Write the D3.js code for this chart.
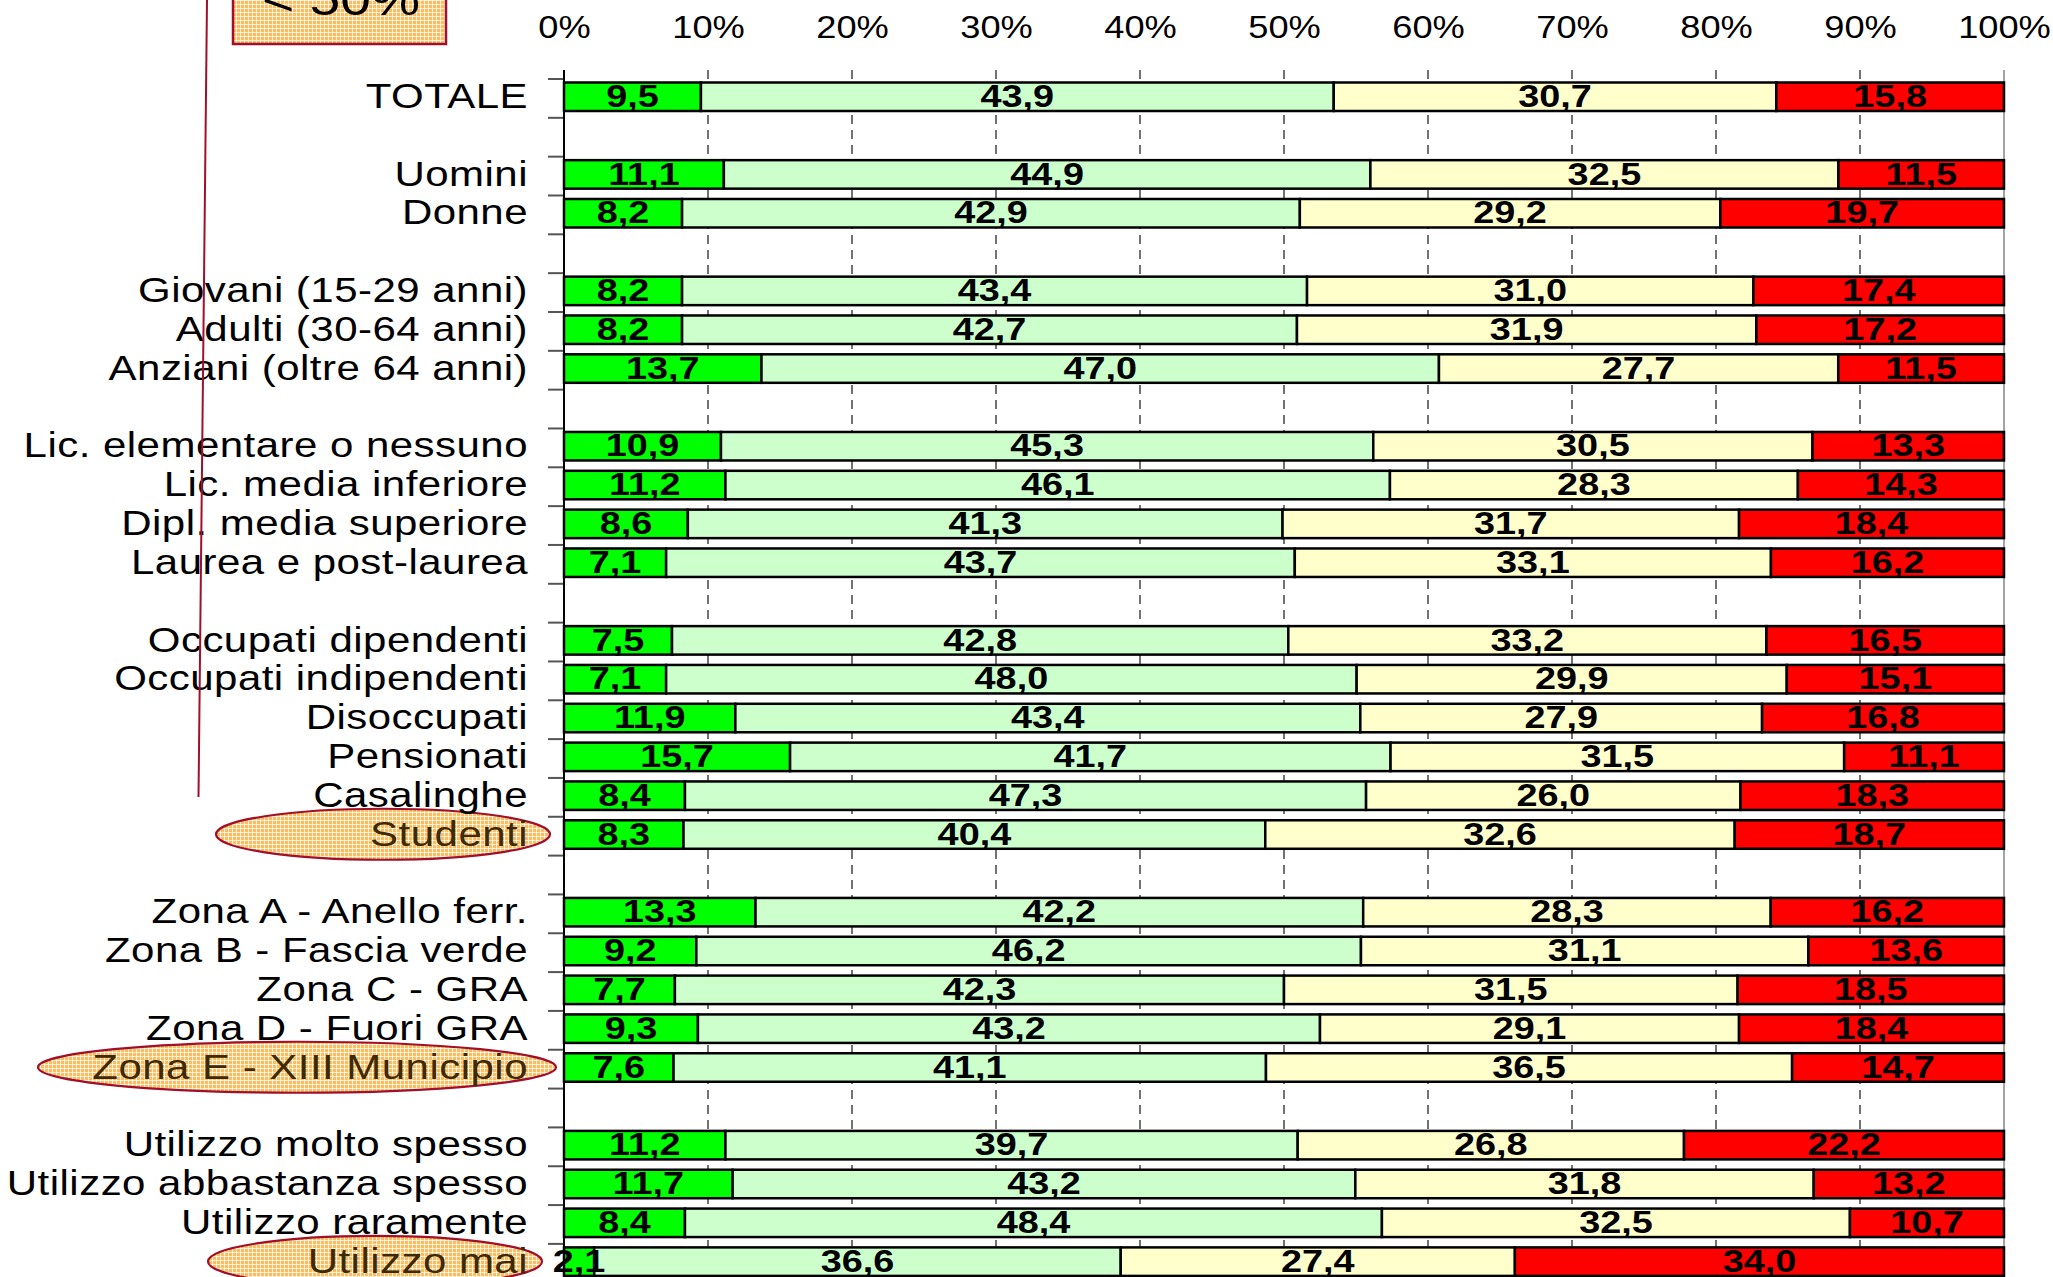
<!DOCTYPE html>
<html>
<head>
<meta charset="utf-8">
<script src="https://cdn.jsdelivr.net/npm/d3@7"></script>
<style>
    body { margin: 0; background: #fff; }
    svg { display: block; font-family: "Liberation Sans", Arial, sans-serif; }
</style>
</head>
<body>
<svg id="chart" width="2053" height="1277"></svg>
<script>
// categorie, nell'ordine del grafico (i gruppi sono separati da una riga vuota)
var categories = [
    "TOTALE",
    "Uomini", "Donne",
    "Giovani (15-29 anni)", "Adulti (30-64 anni)", "Anziani (oltre 64 anni)",
    "Lic. elementare o nessuno", "Lic. media inferiore", "Dipl. media superiore", "Laurea e post-laurea",
    "Occupati dipendenti", "Occupati indipendenti", "Disoccupati", "Pensionati", "Casalinghe", "Studenti",
    "Zona A - Anello ferr.", "Zona B - Fascia verde", "Zona C - GRA", "Zona D - Fuori GRA", "Zona E - XIII Municipio",
    "Utilizzo molto spesso", "Utilizzo abbastanza spesso", "Utilizzo raramente", "Utilizzo mai"
];
var groupSizes = [1, 2, 3, 4, 6, 5, 4];

// le quattro serie (valori percentuali)
var serieVerde = [9.5, 11.1, 8.2, 8.2, 8.2, 13.7, 10.9, 11.2, 8.6, 7.1, 7.5, 7.1, 11.9, 15.7, 8.4, 8.3, 13.3, 9.2, 7.7, 9.3, 7.6, 11.2, 11.7, 8.4, 2.1];
var serieVerdeChiaro = [43.9, 44.9, 42.9, 43.4, 42.7, 47.0, 45.3, 46.1, 41.3, 43.7, 42.8, 48.0, 43.4, 41.7, 47.3, 40.4, 42.2, 46.2, 42.3, 43.2, 41.1, 39.7, 43.2, 48.4, 36.6];
var serieGialla = [30.7, 32.5, 29.2, 31.0, 31.9, 27.7, 30.5, 28.3, 31.7, 33.1, 33.2, 29.9, 27.9, 31.5, 26.0, 32.6, 28.3, 31.1, 31.5, 29.1, 36.5, 26.8, 31.8, 32.5, 27.4];
var serieRossa = [15.8, 11.5, 19.7, 17.4, 17.2, 11.5, 13.3, 14.3, 18.4, 16.2, 16.5, 15.1, 16.8, 11.1, 18.3, 18.7, 16.2, 13.6, 18.5, 18.4, 14.7, 22.2, 13.2, 10.7, 34.0];

var tickValues = [0, 10, 20, 30, 40, 50, 60, 70, 80, 90, 100];
var highlighted = ["Studenti", "Zona E - XIII Municipio", "Utilizzo mai"];

var seriesColors = ["#00ff00", "#ccffcc", "#ffffcc", "#ff0000"];

window.onload = function(){ initChart() }

function initChart() {
    var svg = d3.select("#chart");

    var nSlots = categories.length + groupSizes.length - 1;
    var slotH = 38.83;
    var plotTop = 70;
    var stretch = 1.2;   // il testo originale è allargato in orizzontale

    // slot di ogni categoria (una riga vuota tra i gruppi)
    var slots = [];
    var g = 0, cnt = 0;
    categories.forEach(function (c, i) {
        if (cnt === groupSizes[g]) { g++; cnt = 0; }
        slots.push(i + g);
        cnt++;
    });

    var x = d3.scaleLinear().domain([0, 100]).range([564, 2004]);
    var y = d3.scaleBand().domain(d3.range(nSlots)).range([79, 79 + nSlots * slotH]);

    var rows = categories.map(function (c, i) {
        var vals = [serieVerde[i], serieVerdeChiaro[i], serieGialla[i], serieRossa[i]];
        var tot = d3.sum(vals);
        var acc = 0;
        var segs = vals.map(function (v, k) {
            var s = { k: k, v: v, x0: acc / tot * 100 };
            acc += v;
            s.x1 = acc / tot * 100;
            return s;
        });
        return { label: c, slot: slots[i], segs: segs };
    });

    // pattern tratteggiato arancio per le evidenziazioni
    var defs = svg.append("defs");
    var pat = defs.append("pattern")
        .attr("id", "hatch")
        .attr("patternUnits", "userSpaceOnUse")
        .attr("width", 4).attr("height", 4);
    pat.append("rect").attr("width", 4).attr("height", 4).attr("fill", "#ffbb5c");
    pat.append("rect").attr("width", 4).attr("height", 1).attr("fill", "#fff").attr("opacity", 0.75);
    pat.append("rect").attr("width", 1).attr("height", 4).attr("fill", "#fff").attr("opacity", 0.75);

    // griglia verticale tratteggiata
    svg.append("g")
        .selectAll("line")
        .data(tickValues.filter(function (d) { return d > 0 && d < 100; }))
        .enter().append("line")
        .attr("x1", function (d) { return x(d); })
        .attr("x2", function (d) { return x(d); })
        .attr("y1", plotTop)
        .attr("y2", 1300)
        .attr("stroke", "#444")
        .attr("stroke-width", 1.5)
        .attr("stroke-dasharray", "9,6");

    // bordo destro
    svg.append("line")
        .attr("x1", x(100)).attr("x2", x(100))
        .attr("y1", plotTop).attr("y2", 1300)
        .attr("stroke", "#666").attr("stroke-width", 1.2);

    // asse superiore
    var axis = svg.append("g")
        .attr("transform", "translate(0,38)")
        .call(d3.axisTop(x).tickValues(tickValues).tickSize(0).tickPadding(0)
            .tickFormat(function (d) { return d + "%"; }));
    axis.select(".domain").remove();
    axis.selectAll("text")
        .attr("font-family", "Liberation Sans, Arial, sans-serif")
        .attr("font-size", 31)
        .attr("transform", "scale(1.17,1)")
        .attr("fill", "#000");

    // tacche delle categorie
    svg.append("g")
        .selectAll("line")
        .data(d3.range(nSlots + 1))
        .enter().append("line")
        .attr("x1", 548).attr("x2", 564)
        .attr("y1", function (d) { return 79 + d * slotH; })
        .attr("y2", function (d) { return 79 + d * slotH; })
        .attr("stroke", "#555")
        .attr("stroke-width", 2);

    // barre
    var bar = svg.append("g")
        .selectAll("g")
        .data(rows)
        .enter().append("g")
        .attr("transform", function (d) { return "translate(0," + y(d.slot) + ")"; });

    bar.selectAll("rect")
        .data(function (d) { return d.segs; })
        .enter().append("rect")
        .attr("x", function (d) { return x(d.x0); })
        .attr("width", function (d) { return x(d.x1) - x(d.x0); })
        .attr("y", 3.5)
        .attr("height", 28.5)
        .attr("fill", function (d) { return seriesColors[d.k]; })
        .attr("stroke", "#000")
        .attr("stroke-width", 2.5);

    bar.selectAll("text")
        .data(function (d) { return d.segs; })
        .enter().append("text")
        .attr("transform", function (d) {
            return "translate(" + ((x(d.x0) + x(d.x1)) / 2) + "," + (17.5 + 10.5) + ") scale(1.22,1)";
        })
        .attr("text-anchor", "middle")
        .attr("font-size", 31)
        .attr("font-weight", "bold")
        .text(function (d) { return d3.format(".1f")(d.v).replace(".", ","); });

    // asse verticale
    svg.append("line")
        .attr("x1", x(0)).attr("x2", x(0))
        .attr("y1", plotTop).attr("y2", 1300)
        .attr("stroke", "#000").attr("stroke-width", 2);

    // ellissi di evidenziazione
    var ellipses = [
        { label: "Studenti", cx: 383, rx: 167 },
        { label: "Zona E - XIII Municipio", cx: 297, rx: 259 },
        { label: "Utilizzo mai", cx: 375, rx: 167 }
    ];
    svg.append("g")
        .selectAll("ellipse")
        .data(ellipses)
        .enter().append("ellipse")
        .attr("cx", function (d) { return d.cx; })
        .attr("cy", function (d) { return y(slots[categories.indexOf(d.label)]) + 17.5; })
        .attr("rx", function (d) { return d.rx; })
        .attr("ry", 25.5)
        .attr("fill", "url(#hatch)")
        .attr("stroke", "#a0102a")
        .attr("stroke-width", 2.2);

    // etichette categorie
    svg.append("g")
        .selectAll("text")
        .data(rows)
        .enter().append("text")
        .attr("transform", function (d) {
            return "translate(528," + (y(d.slot) + 17.5 + 11.5) + ") scale(" + stretch + ",1)";
        })
        .attr("text-anchor", "end")
        .attr("font-size", 35)
        .attr("letter-spacing", 0.4)
        .attr("fill", function (d) { return highlighted.indexOf(d.label) >= 0 ? "#3d2a00" : "#000"; })
        .text(function (d) { return d.label; });

    // riquadro "< 50%" e linea rossa
    svg.append("line")
        .attr("x1", 207).attr("y1", 0)
        .attr("x2", 198.5).attr("y2", 797)
        .attr("stroke", "#a0102a").attr("stroke-width", 2);

    svg.append("rect")
        .attr("x", 233).attr("y", -60)
        .attr("width", 213).attr("height", 104)
        .attr("fill", "url(#hatch)")
        .attr("stroke", "#a0102a")
        .attr("stroke-width", 2.5);

    svg.append("text")
        .attr("transform", "translate(341,15) scale(1.2,1)")
        .attr("text-anchor", "middle")
        .attr("font-size", 46)
        .attr("fill", "#000")
        .text("< 50%");
}
</script>
</body>
</html>
